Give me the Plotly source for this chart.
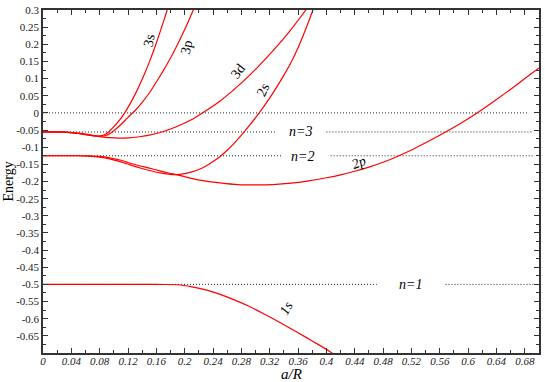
import plotly.graph_objects as go

# %% Data
x_1s = [0, 0.05, 0.10, 0.15, 0.17, 0.19, 0.21, 0.23, 0.25, 0.27, 0.29, 0.31, 0.33,
        0.35, 0.37, 0.39, 0.405, 0.41]
e_1s = [-0.5, -0.5, -0.5, -0.5, -0.5003, -0.501, -0.507, -0.516, -0.529, -0.545, -0.563,
        -0.584, -0.606, -0.629, -0.653, -0.677, -0.696, -0.703]

x_2s = [0, 0.05, 0.065, 0.08, 0.094, 0.11, 0.122, 0.136, 0.15, 0.165, 0.179, 0.188, 0.2,
        0.21, 0.22, 0.23, 0.24, 0.25, 0.26, 0.27, 0.28, 0.29, 0.3, 0.31, 0.32, 0.33, 0.34,
        0.35, 0.36, 0.37, 0.38, 0.385]
e_2s = [-0.125, -0.125, -0.126, -0.129, -0.134, -0.143, -0.151, -0.16, -0.168, -0.175,
        -0.179, -0.18, -0.177, -0.172, -0.165, -0.155, -0.142, -0.127, -0.109, -0.088,
        -0.065, -0.04, -0.014, 0.014, 0.044, 0.076, 0.11, 0.147, 0.19, 0.24, 0.295, 0.325]

x_2p = [0, 0.05, 0.065, 0.08, 0.094, 0.11, 0.122, 0.136, 0.15, 0.165, 0.179, 0.188, 0.2,
        0.221, 0.25, 0.275, 0.3, 0.325, 0.35, 0.375, 0.4, 0.42, 0.44, 0.46, 0.48, 0.5,
        0.52, 0.54, 0.56, 0.58, 0.6, 0.62, 0.64, 0.66, 0.68, 0.7]
e_2p = [-0.125, -0.125, -0.1255, -0.127, -0.131, -0.138, -0.146, -0.154, -0.161, -0.169,
        -0.176, -0.18, -0.186, -0.196, -0.204, -0.209, -0.21, -0.209, -0.205, -0.198,
        -0.189, -0.1805, -0.170, -0.158, -0.144, -0.127, -0.108, -0.087, -0.065, -0.042,
        -0.017, 0.010, 0.039, 0.069, 0.100, 0.131]

x_3s = [0, 0.03, 0.05, 0.065, 0.08, 0.09, 0.10, 0.11, 0.12, 0.13, 0.14, 0.15, 0.16, 0.17,
        0.176, 0.18]
e_3s = [-0.0556, -0.0558, -0.059, -0.0635, -0.0675, -0.060, -0.040, -0.016, 0.016, 0.054,
        0.098, 0.148, 0.204, 0.266, 0.305, 0.33]

x_3p = [0, 0.03, 0.05, 0.065, 0.08, 0.09, 0.10, 0.11, 0.12, 0.13, 0.14, 0.15, 0.16, 0.17,
        0.18, 0.19, 0.20, 0.21, 0.215]
e_3p = [-0.0556, -0.0558, -0.0595, -0.065, -0.068, -0.065, -0.052, -0.034, -0.013, 0.007,
        0.031, 0.058, 0.09, 0.124, 0.16, 0.2, 0.243, 0.29, 0.315]

x_3d = [0, 0.03, 0.05, 0.065, 0.08, 0.094, 0.108, 0.12, 0.136, 0.15, 0.164, 0.18, 0.193,
        0.21, 0.225, 0.25, 0.275, 0.3, 0.325, 0.35, 0.371, 0.38]
e_3d = [-0.0556, -0.056, -0.06, -0.065, -0.069, -0.072, -0.0735, -0.073, -0.0695, -0.065,
        -0.058, -0.047, -0.036, -0.019, 0.0, 0.035, 0.078, 0.127, 0.182, 0.243, 0.3, 0.326]

# dotted reference levels (gaps where the n= labels sit)
x_zero = [0, 0.686]
e_zero = [0, 0]
x_n3 = [0, 0.329, None, 0.40, 0.692]
e_n3 = [-1/18, -1/18, None, -1/18, -1/18]
x_n2 = [0, 0.337, None, 0.406, 0.692]
e_n2 = [-0.125, -0.125, None, -0.125, -0.125]
x_n1 = [0, 0.471, None, 0.568, 0.692]
e_n1 = [-0.5, -0.5, None, -0.5, -0.5]

x_ticks = [0, 0.04, 0.08, 0.12, 0.16, 0.2, 0.24, 0.28, 0.32, 0.36, 0.4, 0.44, 0.48,
           0.52, 0.56, 0.6, 0.64, 0.68]
x_labels = ['0', '0.04', '0.08', '0.12', '0.16', '0.2', '0.24', '0.28', '0.32', '0.36',
            '0.4', '0.44', '0.48', '0.52', '0.56', '0.6', '0.64', '0.68']
y_ticks = [0.3, 0.25, 0.2, 0.15, 0.1, 0.05, 0, -0.05, -0.1, -0.15, -0.2, -0.25, -0.3,
           -0.35, -0.4, -0.45, -0.5, -0.55, -0.6, -0.65]
y_labels = ['0.3', '0.25', '0.2', '0.15', '0.1', '0.05', '0', '-0.05', '-0.1', '-0.15',
            '-0.2', '-0.25', '-0.3', '-0.35', '-0.4', '-0.45', '-0.5', '-0.55', '-0.6',
            '-0.65']

# curve labels: text, x, y, angle, italic
curve_labels = [('3s', 0.150, 0.211, -80, False),
                ('3p', 0.202, 0.192, -78, False),
                ('3d', 0.275, 0.121, -52, False),
                ('2s', 0.310, 0.066, -65, False),
                ('2p', 0.446, -0.146, -22, True),
                ('1s', 0.343, -0.570, -60, True),
                ('n=3', 0.364, -0.055, 0, True),
                ('n=2', 0.366, -0.126, 0, True),
                ('n=1', 0.518, -0.501, 0, True)]

FONT = 'Liberation Serif'

# %% Figure
fig = go.Figure()

for xs, es in [(x_zero, e_zero), (x_n3, e_n3), (x_n2, e_n2), (x_n1, e_n1)]:
    fig.add_trace(go.Scatter(x=xs, y=es, mode='lines',
                             line=dict(color='#222', width=1, dash='1px,2px'),
                             hoverinfo='skip'))

for xs, es in [(x_1s, e_1s), (x_2s, e_2s), (x_2p, e_2p),
               (x_3s, e_3s), (x_3p, e_3p), (x_3d, e_3d)]:
    fig.add_trace(go.Scatter(x=xs, y=es, mode='lines',
                             line=dict(color='#ff0000', width=1.2, shape='spline',
                                       smoothing=0.6),
                             hoverinfo='skip'))

for text, xa, ya, ang, ital in curve_labels:
    fig.add_annotation(x=xa, y=ya, text=text, showarrow=False, textangle=ang,
                       font=dict(family=FONT, size=14, color='black',
                                 style='italic' if ital else 'normal'))

# axis titles as annotations for exact placement
fig.add_annotation(xref='paper', yref='paper', x=0.5, y=0, yshift=-21,
                   xanchor='center', yanchor='middle',
                   text='a/R', showarrow=False,
                   font=dict(family=FONT, size=15, color='black', style='italic'))
fig.add_annotation(xref='paper', yref='paper', x=0, y=0.5, xshift=-35,
                   xanchor='center', yanchor='middle',
                   text='Energy', showarrow=False, textangle=-90,
                   font=dict(family=FONT, size=14, color='black'))

axis_common = dict(showgrid=False, zeroline=False, showline=True, linecolor='#333',
                   linewidth=1.5, mirror='allticks', ticks='inside', ticklen=5,
                   tickwidth=1, tickcolor='#333', ticklabeloverflow='allow')

fig.update_xaxes(range=[0, 0.7], tickmode='array', tickvals=x_ticks, ticktext=x_labels,
                 tickfont=dict(family=FONT, size=11, color='#222', style='italic'),
                 ticklabelstandoff=-3,
                 minor=dict(ticks='inside', ticklen=3, tick0=0, dtick=0.02,
                            tickcolor='#333', showgrid=False),
                 **axis_common)
fig.update_yaxes(range=[-0.7, 0.3], tickmode='array', tickvals=y_ticks,
                 ticktext=y_labels,
                 tickfont=dict(family=FONT, size=11, color='#222'),
                 minor=dict(ticks='inside', ticklen=3, tick0=0, dtick=0.025,
                            tickcolor='#333', showgrid=False),
                 **axis_common)

fig.update_layout(width=545, height=382, showlegend=False,
                  paper_bgcolor='white', plot_bgcolor='white',
                  margin=dict(l=43, r=4, t=4, b=29))

# page body has a default 8px margin; remove it so the figure fills the window
fig.write_html("out.html", config={'displayModeBar': False},
               post_script="document.body.style.margin='0';")
